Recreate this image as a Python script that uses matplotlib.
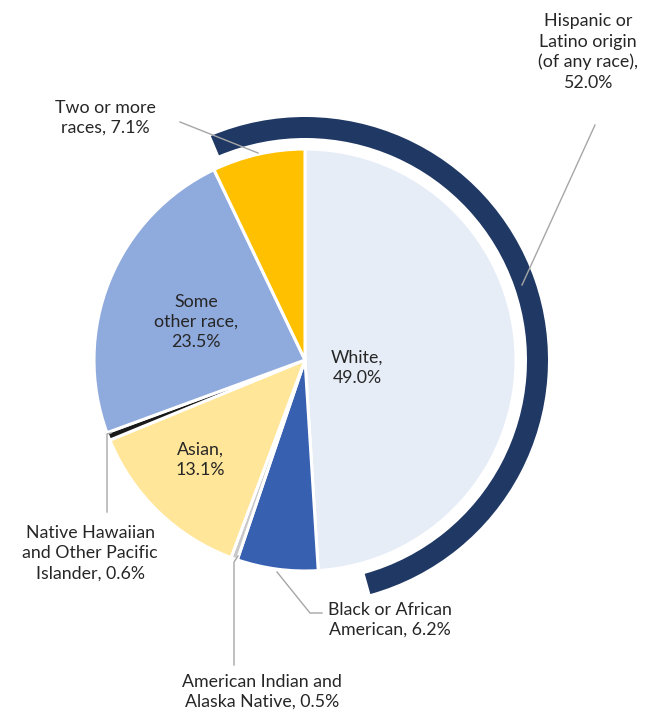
import matplotlib.pyplot as plt
from matplotlib.patches import Wedge

plt.rcParams['font.family'] = ['Lato', 'DejaVu Sans']

# Race shares, clockwise from 12 o'clock
races = ['White', 'Black or African\nAmerican', 'American Indian and\nAlaska Native', 'Asian',
         'Native Hawaiian\nand Other Pacific\nIslander', 'Some\nother race', 'Two or more\nraces']
shares = [49.0, 6.2, 0.5, 13.1, 0.6, 23.5, 7.1]
colors = ['#E6EDF7', '#3760B0', '#C9C9C9', '#FFE699', '#1A1A1A', '#8FAADC', '#FFC000']

hisp_label = 'Hispanic or\nLatino origin\n(of any race)'
hisp_share = 52.0
hisp_start = 112.8   # degrees, arc runs clockwise from here

W, H = 663, 719
fig = plt.figure(figsize=(W / 100, H / 100), dpi=100)
ax = fig.add_axes([0, 0, 1, 1])

cx, cy, r = 305, H - 360, 211
ax.pie(shares, colors=colors, startangle=90, counterclock=False, center=(cx, cy), radius=r,
       wedgeprops=dict(edgecolor='white', linewidth=2.2), frame=True)
ax.set_xlim(0, W)
ax.set_ylim(0, H)
ax.set_aspect('equal')
ax.axis('off')

# Hispanic/Latino ring around the pie
span = hisp_share * 3.6
ax.add_patch(Wedge((cx, cy), 243, hisp_start - span, hisp_start, width=21,
                   facecolor='#1F3864', edgecolor='none'))

txt = dict(fontsize=12.8, color='#262626', ha='center', va='center', linespacing=1.32)
line = dict(color='#A6A6A6', lw=1)

def Y(y):
    return H - y

# labels inside slices
ax.text(357, Y(368), f'{races[0]},\n{shares[0]:.1f}%', **txt)
ax.text(200, Y(460), f'{races[3]},\n{shares[3]:.1f}%', **txt)
ax.text(196, Y(322), f'{races[5]},\n{shares[5]:.1f}%', **txt)

# outside labels with leader lines
ax.text(588, Y(52), f'{hisp_label},\n{hisp_share:.1f}%', **txt)
ax.plot([595, 522], [Y(125), Y(285)], **line)

ax.text(105, Y(118), f'{races[6]}, {shares[6]:.1f}%', **txt)
ax.plot([180, 258], [Y(122), Y(153)], **line)

ax.text(90, Y(553), f'{races[4]}, {shares[4]:.1f}%', **txt)
ax.plot([111, 107, 107], [Y(433), Y(434), Y(512)], **line)

ax.text(390, Y(620), f'{races[1]}, {shares[1]:.1f}%', **txt)
ax.plot([277, 310, 322], [Y(572), Y(613), Y(613)], **line)

ax.text(262, Y(692), f'{races[2]}, {shares[2]:.1f}%', **txt)
ax.plot([238, 234, 234], [Y(556), Y(562), Y(665)], **line)

fig.savefig('out.png', dpi=100, facecolor='white')
